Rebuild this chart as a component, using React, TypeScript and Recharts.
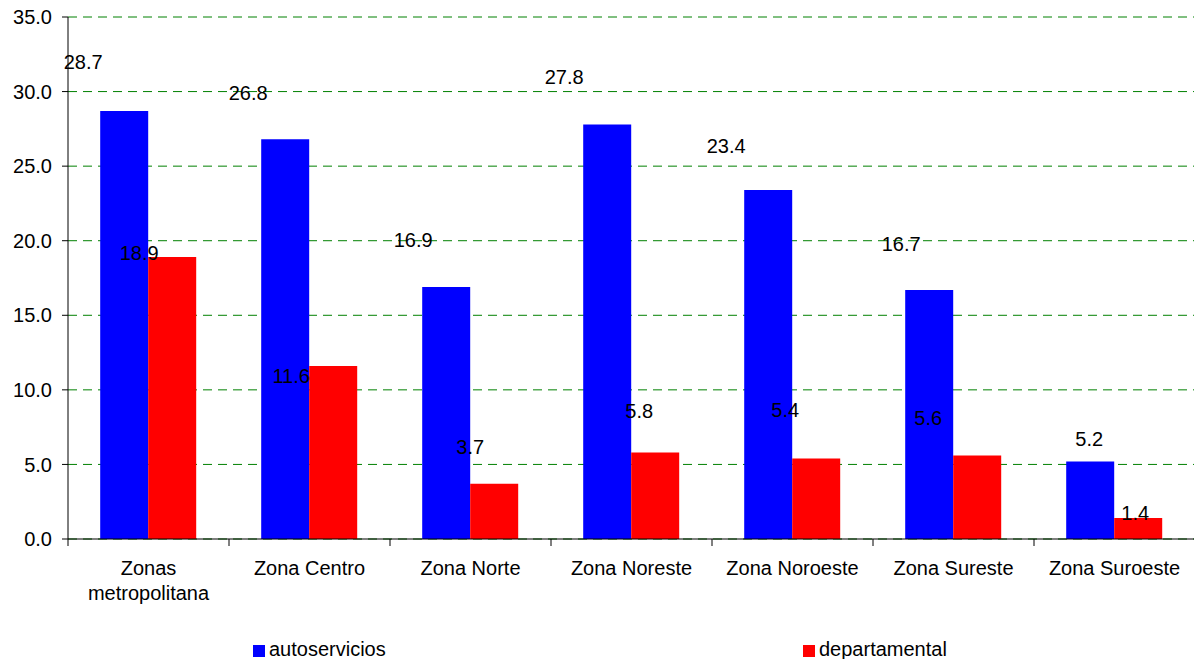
import React from "react";
import {
  BarChart,
  Bar,
  XAxis,
  YAxis,
  CartesianGrid,
  Legend,
  LabelList,
} from "recharts";

const CATEGORIES = [
  "Zonas metropolitana",
  "Zona Centro",
  "Zona Norte",
  "Zona Noreste",
  "Zona Noroeste",
  "Zona Sureste",
  "Zona Suroeste",
];
const AUTOSERVICIOS = [28.7, 26.8, 16.9, 27.8, 23.4, 16.7, 5.2];
const DEPARTAMENTAL = [18.9, 11.6, 3.7, 5.8, 5.4, 5.6, 1.4];
const Y_TICKS = [0, 5, 10, 15, 20, 25, 30, 35];

// label nudges (px) relative to the bar's top centre, the source chart has them scattered
const BLUE_NUDGE = [[-41, -49], [-37, -46], [-33, -47], [-43, -47], [-42, -44], [-28, -46], [-1, -22]];
const RED_NUDGE = [[-33, -4], [-42, 10], [-24, -37], [-16, -41], [-31, -48], [-49, -37], [-3, -5]];

const FONT = "'Liberation Sans', Arial, sans-serif";
const CHART_W = 1195;
const CHART_H = 668;
const LEFT = 68;
const PLOT_W = CHART_W - LEFT;
const BAND = PLOT_W / CATEGORIES.length;

const data = CATEGORIES.map((name, i) => ({
  name,
  autoservicios: AUTOSERVICIOS[i],
  departamental: DEPARTAMENTAL[i],
}));

const wrapLabel = (s: string) => {
  if (s.length * 10 <= 150) return [s];
  const k = s.indexOf(" ");
  return [s.slice(0, k), s.slice(k + 1)];
};

const CategoryTick = (props: any) => {
  const { x, y, payload } = props;
  const left = x - BAND / 2;
  const lines = wrapLabel(payload.value);
  return (
    <g>
      <line x1={left} x2={left} y1={y} y2={y + 7} stroke="#000" />
      <text x={x} y={y + 29} textAnchor="middle" fontSize={20} fontFamily={FONT} fill="#000">
        {lines.map((l, i) => (
          <tspan key={i} x={x} dy={i === 0 ? "0.35em" : 25}>
            {l}
          </tspan>
        ))}
      </text>
    </g>
  );
};

const makeLabel = (nudge: number[][]) => (props: any) => {
  const { x, y, width, index, value } = props;
  const [dx, dy] = nudge[index];
  return (
    <text
      x={x + width / 2 + dx}
      y={y + dy}
      dy="0.35em"
      textAnchor="middle"
      fontSize={20}
      fontFamily={FONT}
      fill="#000"
    >
      {Number(value).toFixed(1)}
    </text>
  );
};

const LegendBox = () => (
  <div style={{ position: "relative", height: 30, fontFamily: FONT, fontSize: 20 }}>
    {[
      { label: "autoservicios", color: "#0000FF", left: 253 },
      { label: "departamental", color: "#FF0000", left: 803 },
    ].map((it) => (
      <div key={it.label} style={{ position: "absolute", left: it.left, top: 0, display: "flex", alignItems: "center" }}>
        <span style={{ display: "inline-block", width: 12, height: 12, background: it.color, marginRight: 4, marginTop: 3 }} />
        <span style={{ color: "#000", lineHeight: "22px" }}>{it.label}</span>
      </div>
    ))}
  </div>
);

export default function App() {
  return (
    <div style={{ position: "absolute", left: 0, top: 0, width: 1194, height: 659, overflow: "hidden", background: "#fff" }}>
      <BarChart
        width={CHART_W}
        height={CHART_H}
        data={data}
        margin={{ top: 17, right: 0, bottom: 0, left: 0 }}
        barCategoryGap="20%"
        barGap={0}
      >
        <CartesianGrid vertical={false} stroke="#008000" strokeDasharray="9 6" />
        <XAxis
          dataKey="name"
          height={99}
          interval={0}
          tickSize={0}
          tickMargin={0}
          axisLine={{ stroke: "#000" }}
          tick={<CategoryTick />}
        />
        <YAxis
          width={LEFT}
          domain={[0, 35]}
          ticks={Y_TICKS}
          interval={0}
          tickFormatter={(v: number) => v.toFixed(1)}
          tickSize={6}
          tickMargin={10}
          axisLine={{ stroke: "#000" }}
          tickLine={{ stroke: "#000" }}
          tick={{ fill: "#000", fontSize: 20, fontFamily: FONT }}
        />
        <Legend verticalAlign="bottom" wrapperStyle={{ left: 0, width: CHART_W }} content={<LegendBox />} />
        <Bar dataKey="autoservicios" fill="#0000FF" isAnimationActive={false}>
          <LabelList dataKey="autoservicios" content={makeLabel(BLUE_NUDGE)} />
        </Bar>
        <Bar dataKey="departamental" fill="#FF0000" isAnimationActive={false}>
          <LabelList dataKey="departamental" content={makeLabel(RED_NUDGE)} />
        </Bar>
      </BarChart>
    </div>
  );
}
